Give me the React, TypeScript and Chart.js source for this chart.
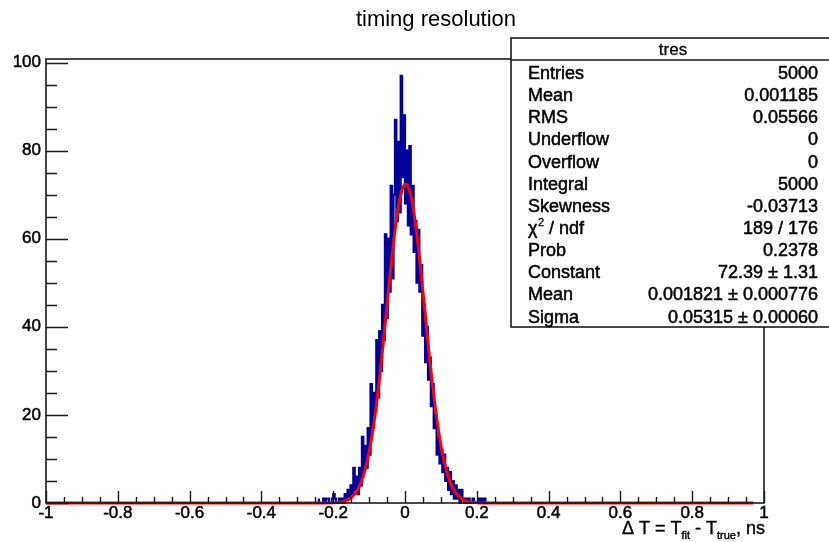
import { useEffect, useRef } from "react";
import { Chart, registerables } from "chart.js";

Chart.register(...registerables);

const TITLE = "timing resolution";
const HIST_NAME = "tres";

// histogram: bin edges start and width, counts per bin
const BIN_START = -0.24;
const BIN_WIDTH = 0.004;
const counts = [
  1, 0, 0, 0, 1, 0, 1, 1, 0, 0,
  1, 2, 1, 0, 0, 1, 0, 1, 0, 2,
  1, 3, 1, 4, 2, 8, 3, 6, 2, 8,
  4, 15, 7, 13, 8, 17, 11, 27, 17, 25,
  21, 37, 24, 39, 30, 45, 37, 61, 42, 60,
  48, 72, 51, 70, 87, 64, 82, 66, 97, 74,
  88, 68, 80, 63, 81, 61, 72, 57, 64, 50,
  62, 48, 54, 38, 45, 32, 40, 28, 33, 22,
  27, 17, 20, 11, 15, 9, 12, 7, 11, 5,
  8, 3, 7, 2, 5, 1, 4, 1, 3, 0,
  3, 1, 0, 1, 0, 1, 0, 0, 1, 0,
  0, 0, 1, 0, 1, 0, 1, 0, 0, 0,
];

const fitX = [
  -1, -0.3, -0.25, -0.2, -0.18, -0.17, -0.16, -0.15, -0.14, -0.13,
  -0.12, -0.11, -0.1, -0.09, -0.08, -0.07, -0.06, -0.05, -0.04, -0.03,
  -0.02, -0.01, -0.005, 0, 0.005, 0.01, 0.02, 0.03, 0.04, 0.05,
  0.06, 0.07, 0.08, 0.09, 0.1, 0.11, 0.12, 0.13, 0.14, 0.15,
  0.16, 0.17, 0.18, 0.2, 0.25, 0.3, 0.97,
];
const fitY = [
  0, 0, 0, 0.05, 0.21, 0.39, 0.7, 1.23, 2.06, 3.3,
  5.2, 7.9, 11.6, 16.3, 22.1, 29.0, 36.8, 45.0, 53.0, 60.5,
  66.6, 70.6, 71.8, 72.35, 72.26, 71.5, 68.3, 62.9, 55.9, 48.0,
  39.7, 31.7, 24.5, 18.3, 13.1, 9.1, 6.1, 3.9, 2.45, 1.48,
  0.86, 0.48, 0.26, 0.07, 0, 0, 0,
];

const statLabels = [
  "Entries", "Mean", "RMS", "Underflow", "Overflow", "Integral",
  "Skewness", "CHI2", "Prob", "Constant", "Mean", "Sigma",
];
const statValues = [
  "5000", "0.001185", "0.05566", "0", "0", "5000",
  "-0.03713", "189 / 176", "0.2378", "72.39 \u00b1 1.31",
  "0.001821 \u00b1 0.000776", "0.05315 \u00b1 0.00060",
];

const X_MIN = -1;
const X_MAX = 1;
const Y_MIN = 0;
const Y_MAX = 100.8;

const FONT = "'Liberation Sans', Arial, Helvetica, sans-serif";

function heavyText(ctx: CanvasRenderingContext2D, t: string, x: number, y: number, w = 0.5) {
  ctx.lineWidth = w;
  ctx.strokeStyle = ctx.fillStyle as string;
  ctx.strokeText(t, x, y);
  ctx.fillText(t, x, y);
}

const rootPlugin = {
  id: "rootStyle",
  afterDraw(chart: any) {
    const { ctx, chartArea: a, scales } = chart;
    const xs = scales.x;
    const ys = scales.y;
    ctx.save();

    // frame
    ctx.strokeStyle = "#1a1a1a";
    ctx.lineWidth = 1.6;
    ctx.strokeRect(a.left, a.top, a.right - a.left, a.bottom - a.top);

    // y ticks (inside)
    ctx.beginPath();
    ctx.lineWidth = 1.4;
    for (let i = 0; i <= 20; i++) {
      const v = i * 5;
      const y = Math.round(ys.getPixelForValue(v)) + 0.5;
      const len = i % 4 === 0 ? 22 : 11;
      ctx.moveTo(a.left, y);
      ctx.lineTo(a.left + len, y);
    }
    // x ticks (inside)
    for (let i = 0; i <= 40; i++) {
      const v = X_MIN + i * 0.05;
      const x = Math.round(xs.getPixelForValue(v)) + 0.5;
      const len = i % 4 === 0 ? 12 : 6;
      ctx.moveTo(x, a.bottom);
      ctx.lineTo(x, a.bottom - len);
    }
    ctx.stroke();

    // title
    ctx.fillStyle = "#000";
    ctx.font = `22px ${FONT}`;
    ctx.textAlign = "center";
    ctx.textBaseline = "middle";
    ctx.fillText(TITLE, 436, 20);

    // x axis title: Δ T = T_fit - T_true, ns (right aligned)
    const parts: [string, boolean][] = [
      ["\u0394 T = T", false],
      ["fit", true],
      [" - T", false],
      ["true", true],
      [", ns", false],
    ];
    const mainFont = `18px ${FONT}`;
    const subFont = `11px ${FONT}`;
    let total = 0;
    for (const [t, sub] of parts) {
      ctx.font = sub ? subFont : mainFont;
      total += ctx.measureText(t).width;
    }
    let px = a.right + 1 - total;
    ctx.textAlign = "left";
    ctx.textBaseline = "alphabetic";
    for (const [t, sub] of parts) {
      ctx.font = sub ? subFont : mainFont;
      heavyText(ctx, t, px, sub ? 539 : 534, 0.4);
      px += ctx.measureText(t).width;
    }

    // stats box
    const bx = 511, by = 38, bw = 330, bh = 289;
    ctx.fillStyle = "#fff";
    ctx.fillRect(bx, by, bw, bh);
    ctx.strokeStyle = "#1a1a1a";
    ctx.lineWidth = 1.6;
    ctx.strokeRect(bx, by, bw, bh);
    ctx.beginPath();
    ctx.moveTo(bx, 60);
    ctx.lineTo(bx + bw, 60);
    ctx.stroke();

    ctx.fillStyle = "#000";
    ctx.font = `17px ${FONT}`;
    ctx.textAlign = "center";
    ctx.textBaseline = "middle";
    heavyText(ctx, HIST_NAME, 673, 50, 0.3);

    for (let i = 0; i < statLabels.length; i++) {
      const y = 74 + i * 22.15;
      const lab = statLabels[i];
      ctx.textAlign = "left";
      ctx.font = `18px ${FONT}`;
      if (lab === "CHI2") {
        heavyText(ctx, "\u03c7", 528, y);
        let w = ctx.measureText("\u03c7").width;
        ctx.font = `11px ${FONT}`;
        heavyText(ctx, "2", 528 + w + 0.5, y - 6, 0.3);
        w += ctx.measureText("2").width + 0.5;
        ctx.font = `18px ${FONT}`;
        heavyText(ctx, " / ndf", 528 + w, y);
      } else {
        heavyText(ctx, lab, 528, y);
      }
      ctx.textAlign = "right";
      heavyText(ctx, statValues[i], 818, y);
    }
    ctx.restore();
  },
};

export default function App() {
  const ref = useRef<HTMLCanvasElement | null>(null);

  useEffect(() => {
    if (!ref.current) return;
    const histPts: { x: number; y: number }[] = [{ x: BIN_START, y: 0 }];
    counts.forEach((c, i) => histPts.push({ x: BIN_START + i * BIN_WIDTH, y: c }));
    histPts.push({ x: BIN_START + counts.length * BIN_WIDTH, y: 0 });
    const fitPts = fitX.map((x, i) => ({ x, y: fitY[i] }));

    const chart = new Chart(ref.current, {
      type: "line",
      data: {
        datasets: [
          {
            label: "fit",
            data: fitPts,
            borderColor: "#ff0000",
            borderWidth: 3,
            pointRadius: 0,
            fill: false,
            cubicInterpolationMode: "monotone",
            clip: false as any,
          },
          {
            label: "tres",
            data: histPts,
            stepped: "after",
            borderColor: "#00009a",
            borderWidth: 2.2,
            pointRadius: 0,
            fill: false,
            clip: false as any,
          },
        ],
      },
      options: {
        animation: false,
        responsive: false,
        maintainAspectRatio: false,
        layout: { padding: { top: 59, right: 65, left: 0, bottom: 0 } },
        plugins: {
          legend: { display: false },
          title: { display: false },
          tooltip: { enabled: false },
        },
        scales: {
          x: {
            type: "linear",
            min: X_MIN,
            max: X_MAX,
            grid: { display: false, drawTicks: false, tickLength: 0 },
            border: { display: false },
            ticks: {
              stepSize: 0.2,
              includeBounds: false,
              autoSkip: false,
              maxRotation: 0,
              padding: 0,
              color: "#000",
              textStrokeColor: "#000",
              textStrokeWidth: 0.5,
              font: { family: FONT, size: 17 },
              callback: (v: any) => String(Number(Number(v).toFixed(1))),
            },
            afterFit: (s: any) => {
              s.height = 39;
            },
          },
          y: {
            type: "linear",
            min: Y_MIN,
            max: Y_MAX,
            grid: { display: false, drawTicks: false, tickLength: 0 },
            border: { display: false },
            ticks: {
              stepSize: 20,
              includeBounds: false,
              padding: 5,
              color: "#000",
              textStrokeColor: "#000",
              textStrokeWidth: 0.5,
              font: { family: FONT, size: 17 },
              callback: (v: any) => String(Math.round(Number(v))),
            },
            afterFit: (s: any) => {
              s.width = 46;
            },
          },
        },
      } as any,
      plugins: [rootPlugin],
    });
    return () => chart.destroy();
  }, []);

  return (
    <div style={{ position: "fixed", left: 0, top: 0, width: 829, height: 542, background: "#fff" }}>
      <canvas ref={ref} width={829} height={542} style={{ width: 829, height: 542, display: "block" }} />
    </div>
  );
}
